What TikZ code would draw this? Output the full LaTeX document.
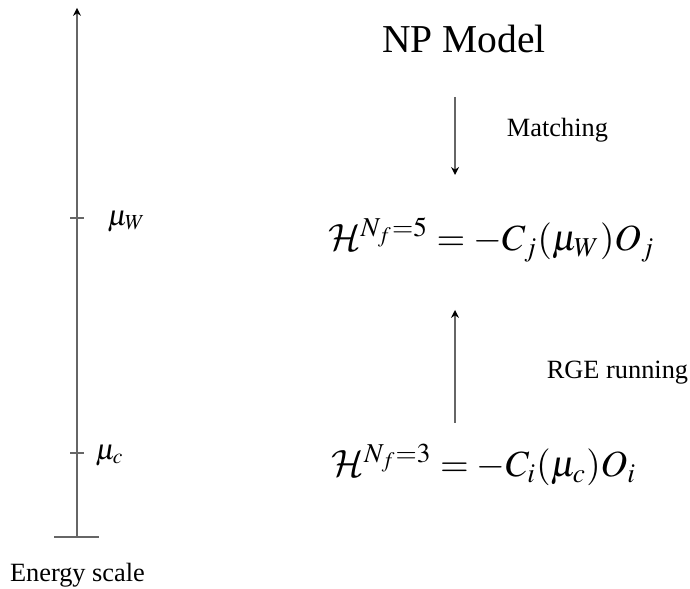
\documentclass[tikz,border=0pt]{standalone}
\usepackage{mathptmx}
\DeclareMathAlphabet{\mathcal}{OMS}{cmsy}{m}{n}
\usepackage[no-math]{fontspec}
\setmainfont{Liberation Serif}
\usetikzlibrary{arrows.meta}
\tikzset{
  axisline/.style={draw=black!60, line width=0.6pt},
  flowarrow/.style={draw=black!60, line width=0.6pt, -{Stealth[length=3pt,width=3pt,black]}},
  smalltext/.style={font=\fontsize{10}{12}\selectfont, inner sep=0pt},
  eqtext/.style={font=\fontsize{14}{17}\selectfont, inner sep=0pt},
  ticklabel/.style={font=\fontsize{11}{13}\selectfont, inner sep=0pt, anchor=west}
}
\begin{document}
\begin{tikzpicture}
\useasboundingbox (0,0) rectangle (9.2,7.853);
% energy axis
\coordinate (axbot) at (1.027,0.693);
\coordinate (axtop) at (1.027,7.747);
\coordinate (barL) at (0.72,0.693);
\coordinate (barR) at (1.32,0.693);
\draw[flowarrow] (axbot) -- (axtop);
\draw[axisline] (barL) -- (barR);
\coordinate (tW) at (1.027,4.947);
\coordinate (tC) at (1.027,1.813);
\draw[axisline] ([xshift=-0.09cm]tW) -- ([xshift=0.09cm]tW);
\draw[axisline] ([xshift=-0.09cm]tC) -- ([xshift=0.09cm]tC);
\node[ticklabel] (muW) at (1.427,4.90) {$\mu_W$};
\node[ticklabel] (muC) at (1.267,1.78) {$\mu_c$};
\node[smalltext] (escale) at (1.033,0.187) {Energy scale};
% right side
\node[font=\fontsize{15}{18}\selectfont, inner sep=0pt] (np) at (6.187,7.333) {NP Model};
\coordinate (m1) at (6.067,6.56);
\coordinate (m2) at (6.067,5.52);
\draw[flowarrow] (m1) -- (m2);
\node[smalltext] (match) at (7.433,6.12) {Matching};
\node[eqtext] (h5) at (6.553,4.653) {$\mathcal{H}^{N_f=5} = -C_j(\mu_W)O_j$};
\coordinate (r1) at (6.067,2.213);
\coordinate (r2) at (6.067,3.72);
\draw[flowarrow] (r1) -- (r2);
\node[smalltext] (rge) at (8.233,2.88) {RGE running};
\node[eqtext] (h3) at (6.453,1.653) {$\mathcal{H}^{N_f=3} = -C_i(\mu_c)O_i$};
\end{tikzpicture}
\end{document}
